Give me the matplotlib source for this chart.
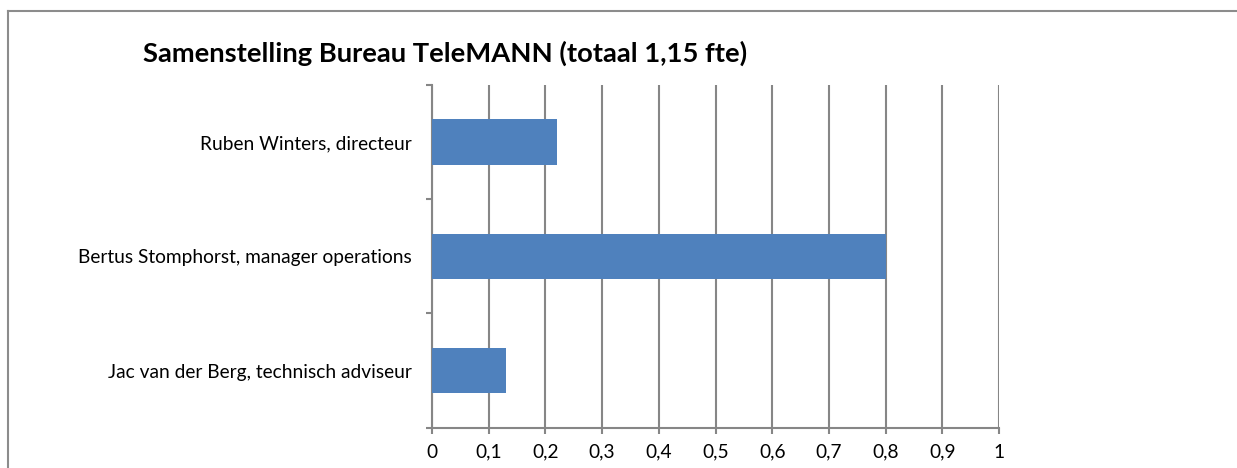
import matplotlib
matplotlib.use('Agg')
import matplotlib.pyplot as plt
from matplotlib.lines import Line2D
from matplotlib.ticker import FixedLocator, FuncFormatter

# GEGEVENS (van onder naar boven)
medewerkers = ['Jac van der Berg, technisch adviseur',
               'Bertus Stomphorst, manager operations',
               'Ruben Winters, directeur']
fte = [0.13, 0.80, 0.22]
x_ticks = [0, 0.1, 0.2, 0.3, 0.4, 0.5, 0.6, 0.7, 0.8, 0.9, 1.0]

TITEL = 'Samenstelling Bureau TeleMANN (totaal 1,15 fte)'
GRIJS = '#868686'
BLAUW = '#4F81BD'

plt.rcParams['font.family'] = ['Lato', 'DejaVu Sans']

W, H = 1237, 468
fig = plt.figure(figsize=(W / 100, H / 100), dpi=100)

# kader rond de grafiek (alleen links en boven zichtbaar)
fig.add_artist(Line2D([8 / W, 8 / W], [0, 1 - 10.5 / H], transform=fig.transFigure,
                      color='#8c8c8c', lw=1.5))
fig.add_artist(Line2D([8 / W, 1], [1 - 10.5 / H, 1 - 10.5 / H], transform=fig.transFigure,
                      color='#8c8c8c', lw=1.5))

ax = fig.add_axes([432 / W, 1 - 427.7 / H, (999 - 432) / W, (427.7 - 85) / H])
pos = list(range(len(medewerkers)))
ax.barh(pos, fte, height=0.4, color=BLAUW, zorder=3)

ax.set_xlim(0, 1)
ax.set_ylim(-0.5, len(medewerkers) - 0.5)

ax.xaxis.set_major_locator(FixedLocator(x_ticks))
ax.xaxis.set_major_formatter(FuncFormatter(lambda v, p: f'{v:g}'.replace('.', ',')))
ax.set_yticks(pos)
ax.set_yticklabels(medewerkers)
ax.set_yticks([p - 0.5 for p in pos] + [pos[-1] + 0.5], minor=True)

ax.grid(axis='x', color=GRIJS, lw=1.5, zorder=0)
for s in ['top', 'right']:
    ax.spines[s].set_visible(False)
for s in ['left', 'bottom']:
    ax.spines[s].set_color(GRIJS)
    ax.spines[s].set_linewidth(1.5)

ax.tick_params(axis='y', which='major', length=0, pad=14.4, labelsize=13.8, labelcolor='black')
ax.tick_params(axis='y', which='minor', length=4.5, width=1.5, color=GRIJS, direction='out')
ax.tick_params(axis='x', length=4.5, width=1.5, color=GRIJS, pad=7, labelsize=13.8)

fig.text(143 / W, 1 - 53 / H, TITEL, fontsize=19.7, fontweight='bold', va='center', ha='left')

fig.savefig('out.png', dpi=100)
